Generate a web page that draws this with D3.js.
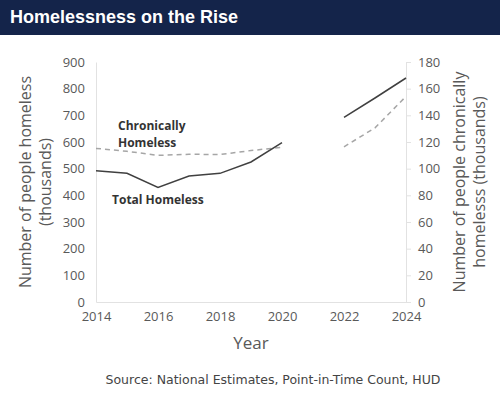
<!DOCTYPE html>
<html>
<head>
<meta charset="utf-8">
<script src="https://cdn.jsdelivr.net/npm/d3@7"></script>
<style>
  body { margin: 0; background: #fff; }
  svg { display: block; }
</style>
</head>
<body>
<svg width="500" height="397"></svg>
<script>
// Years on the x axis (2021 has no count)
const years = [2014, 2015, 2016, 2017, 2018, 2019, 2020, 2022, 2023, 2024];
// Dashed line, left axis (thousands)
const dashedValues = [576, 565, 550, 554, 553, 568, 580, 582, 653, 771];
// Solid line, right axis (thousands)
const solidValues = [98.5, 96.5, 86, 94.5, 96.5, 105, 119.5, 138.5, 153, 168];
const xTicks = [2014, 2016, 2018, 2020, 2022, 2024];
const leftTicks = [0, 100, 200, 300, 400, 500, 600, 700, 800, 900];
const rightTicks = [0, 20, 40, 60, 80, 100, 120, 140, 160, 180];

const svg = d3.select("svg");
const font = "'Open Sans', 'Noto Sans', sans-serif";

// Title bar
svg.append("rect").attr("x", 0).attr("y", 0).attr("width", 500).attr("height", 35)
    .attr("fill", "#14244a");
svg.append("text").attr("x", 10).attr("y", 23)
    .attr("fill", "#fff").attr("font-family", "'Liberation Sans', Arial, sans-serif")
    .attr("font-weight", "bold").attr("font-size", 18)
    .text("Homelessness on the Rise");

const x = d3.scaleLinear().domain([2014, 2024]).range([96, 406]);
const yLeft = d3.scaleLinear().domain([0, 900]).range([302, 62]);
const yRight = d3.scaleLinear().domain([0, 180]).range([302, 62]);

const tickColor = "#595959";

// Left axis
const gl = svg.append("g").attr("transform", "translate(96,0)")
    .call(d3.axisLeft(yLeft).tickValues(leftTicks).tickSize(0).tickPadding(11));
gl.select(".domain").attr("stroke", "#e2e2e2");
gl.selectAll("text").attr("font-family", font).attr("font-size", 13).attr("fill", tickColor);

// Right axis
const gr = svg.append("g").attr("transform", "translate(406,0)")
    .call(d3.axisRight(yRight).tickValues(rightTicks).tickSize(5).tickSizeOuter(0).tickPadding(7));
gr.select(".domain").attr("stroke", "#e2e2e2");
gr.selectAll("line").attr("stroke", "#e2e2e2");
gr.selectAll("text").attr("font-family", font).attr("font-size", 13).attr("fill", tickColor);

// Bottom axis
const gb = svg.append("g").attr("transform", "translate(0,302)")
    .call(d3.axisBottom(x).tickValues(xTicks).tickFormat(d3.format("d")).tickSize(0).tickPadding(10));
gb.select(".domain").attr("stroke", "#e2e2e2");
gb.selectAll("text").attr("font-family", font).attr("font-size", 13).attr("fill", tickColor);

// Lines, broken at the missing 2021 count
const data = years.map((yr, i) => ({ year: yr, dashed: dashedValues[i], solid: solidValues[i] }));
const dashedLine = d3.line().x(d => x(d.year)).y(d => yLeft(d.dashed));
const solidLine = d3.line().x(d => x(d.year)).y(d => yRight(d.solid));
const segments = [data.filter(d => d.year <= 2020), data.filter(d => d.year >= 2022)];

segments.forEach(seg => {
    svg.append("path").datum(seg).attr("d", dashedLine)
        .attr("fill", "none").attr("stroke", "#a6a6a6").attr("stroke-width", 1.5)
        .attr("stroke-dasharray", "5,4");
    svg.append("path").datum(seg).attr("d", solidLine)
        .attr("fill", "none").attr("stroke", "#404040").attr("stroke-width", 1.5);
});

// Series labels
const lab = svg.append("g").attr("font-family", font).attr("font-weight", "bold")
    .attr("font-size", 12).attr("fill", "#333");
lab.append("text").attr("x", 118).attr("y", 130).text("Chronically");
lab.append("text").attr("x", 118).attr("y", 147).text("Homeless");
lab.append("text").attr("x", 112).attr("y", 204).text("Total Homeless");

// Axis titles
const titleColor = "#595959";
svg.append("text").attr("transform", "translate(31,182) rotate(-90)")
    .attr("text-anchor", "middle").attr("font-family", font).attr("font-size", 16)
    .attr("fill", titleColor).text("Number of people homeless");
svg.append("text").attr("transform", "translate(51,182) rotate(-90)")
    .attr("text-anchor", "middle").attr("font-family", font).attr("font-size", 16)
    .attr("fill", titleColor).text("(thousands)");
svg.append("text").attr("transform", "translate(465,182) rotate(-90)")
    .attr("text-anchor", "middle").attr("font-family", font).attr("font-size", 16)
    .attr("fill", titleColor).text("Number of people chronically");
svg.append("text").attr("transform", "translate(485,182) rotate(-90)")
    .attr("text-anchor", "middle").attr("font-family", font).attr("font-size", 16)
    .attr("fill", titleColor).text("homelesss (thousands)");
svg.append("text").attr("x", 251).attr("y", 349).attr("text-anchor", "middle")
    .attr("font-family", font).attr("font-size", 17).attr("fill", titleColor).text("Year");

// Source
svg.append("text").attr("x", 273).attr("y", 384).attr("text-anchor", "middle")
    .attr("font-family", "'DejaVu Sans', sans-serif").attr("font-size", 12.5)
    .attr("fill", "#444").text("Source: National Estimates, Point-in-Time Count, HUD");
</script>
</body>
</html>
